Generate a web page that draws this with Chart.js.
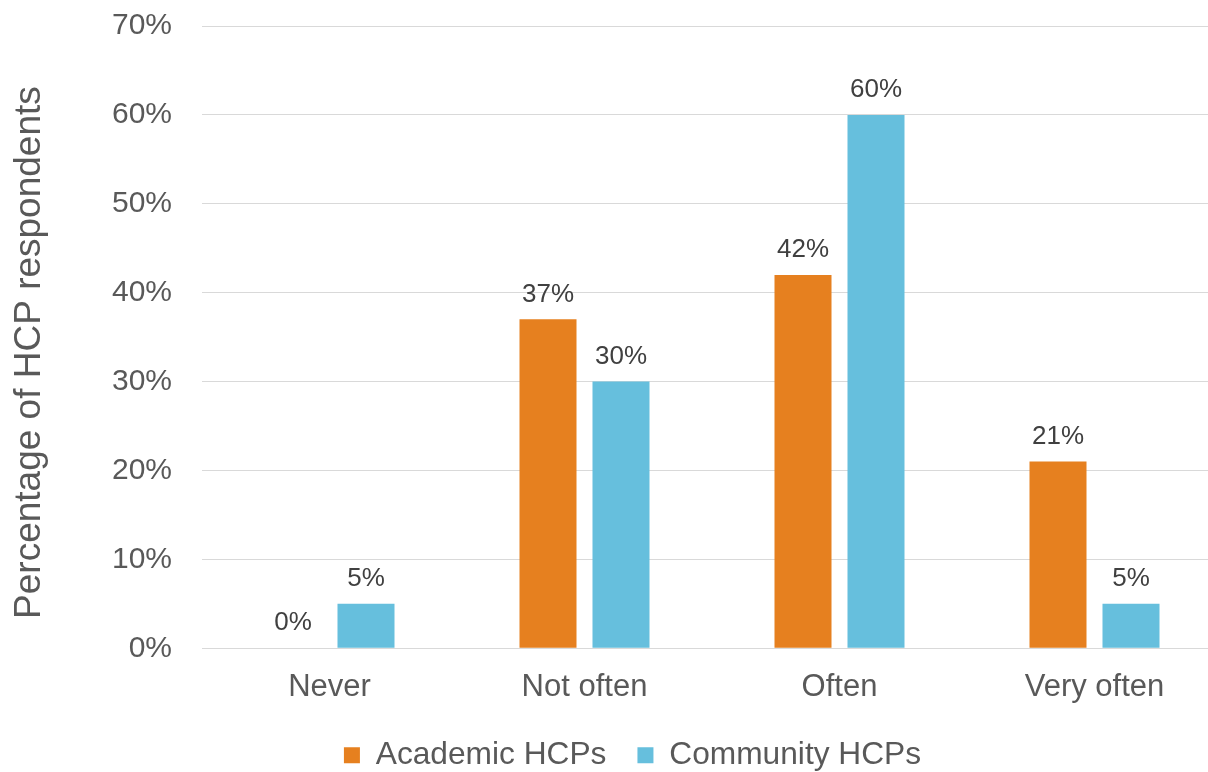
<!DOCTYPE html>
<html>
<head>
<meta charset="utf-8">
<script src="https://cdn.jsdelivr.net/npm/chart.js@4/dist/chart.umd.min.js"></script>
<style>
html,body{margin:0;padding:0;background:#fff;overflow:hidden;}
#wrap{width:1208px;height:772px;position:relative;overflow:hidden;}
</style>
</head>
<body>
<div id="wrap"><canvas id="c" width="1265" height="772"></canvas></div>
<script>
const categories = ["Never", "Not often", "Often", "Very often"];
const academicValues = [0, 37, 42, 21];
const communityValues = [5, 30, 60, 5];
const seriesNames = ["Academic HCPs", "Community HCPs"];
const yTicks = [0, 10, 20, 30, 40, 50, 60, 70];
const yTitle = "Percentage of HCP respondents   ";

const FONT = "'Liberation Sans', Arial, sans-serif";
const TEXT = "#595959";

const dataLabels = {
  id: 'dataLabels',
  afterDatasetsDraw(chart) {
    const ctx = chart.ctx;
    ctx.save();
    ctx.font = "26px " + FONT;
    ctx.fillStyle = "#404040";
    ctx.textAlign = "center";
    ctx.textBaseline = "middle";
    chart.data.datasets.forEach((ds, i) => {
      const meta = chart.getDatasetMeta(i);
      meta.data.forEach((bar, j) => {
        ctx.fillText(ds.data[j] + "%", bar.x, bar.y - 25);
      });
    });
    ctx.restore();
  }
};

new Chart(document.getElementById('c'), {
  type: 'bar',
  data: {
    labels: categories,
    datasets: [
      { label: seriesNames[0], data: academicValues, backgroundColor: "#E6801F", borderWidth: 0,
        categoryPercentage: 0.5725, barPercentage: 0.781 },
      { label: seriesNames[1], data: communityValues, backgroundColor: "#66BFDD", borderWidth: 0,
        categoryPercentage: 0.5725, barPercentage: 0.781 }
    ]
  },
  options: {
    responsive: false,
    animation: false,
    devicePixelRatio: 1,
    layout: { padding: { top: 0, right: 43, left: 43, bottom: -9 } },
    plugins: {
      legend: {
        position: 'bottom',
        labels: {
          font: { family: FONT, size: 31.7 },
          color: TEXT,
          boxWidth: 16,
          boxHeight: 16,
          padding: 31
        }
      },
      tooltip: { enabled: false }
    },
    scales: {
      x: {
        afterFit(scale) { scale.height = 60; },
        grid: { display: false, drawTicks: false },
        border: { display: false },
        ticks: { font: { family: FONT, size: 31 }, color: TEXT, padding: 21 }
      },
      y: {
        min: 0, max: 70,
        afterBuildTicks(scale) { scale.ticks = yTicks.map(v => ({ value: v })); },
        afterFit(scale) { scale.width = 159; },
        grid: { color: "#D9D9D9", lineWidth: 1, drawTicks: true, tickLength: 22, tickColor: "rgba(0,0,0,0)" },
        border: { display: false },
        ticks: {
          font: { family: FONT, size: 30 }, color: TEXT, padding: 8,
          callback: v => v + "%"
        },
        title: {
          display: true, text: yTitle,
          font: { family: FONT, size: 37 }, color: TEXT,
          padding: { top: -35, bottom: 0 }
        }
      }
    }
  },
  plugins: [dataLabels]
});
</script>
</body>
</html>
